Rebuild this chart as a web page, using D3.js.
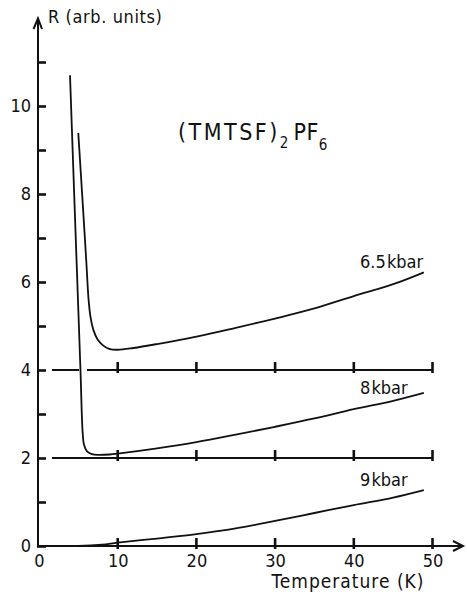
<!DOCTYPE html>
<html>
<head>
<meta charset="utf-8">
<script src="https://cdn.jsdelivr.net/npm/d3@7"></script>
<style>
  body { margin: 0; background: #fff; }
  svg text { font-family: "DejaVu Sans Condensed", "Liberation Sans Narrow", "DejaVu Sans", sans-serif; fill: #111; }
</style>
</head>
<body>
<svg id="chart"></svg>
<script>
// temperature (K) and resistance (arb. units) for each pressure
const temp65 = [4.99, 5.48, 6.0, 6.3, 6.55, 6.93, 7.43, 8.13, 8.9, 10, 12, 15, 20, 25, 30, 35, 40, 45, 48.9];
const res65  = [9.39, 8.0, 6.5, 5.6, 5.2, 4.9, 4.7, 4.56, 4.48, 4.46, 4.5, 4.59, 4.76, 4.96, 5.17, 5.4, 5.68, 5.95, 6.22];

const temp8 = [3.94, 4.47, 4.87, 5.27, 5.54, 5.72, 6.1, 6.7, 7.5, 9, 10, 15, 20, 25, 30, 35, 40, 45, 48.9];
const res8  = [10.7, 8.0, 6.0, 4.0, 2.6, 2.3, 2.15, 2.09, 2.07, 2.08, 2.1, 2.22, 2.36, 2.53, 2.71, 2.9, 3.11, 3.3, 3.48];

const temp9 = [0, 5, 8, 10, 15, 20, 25, 30, 35, 40, 45, 48.9];
const res9  = [0, 0, 0.03, 0.075, 0.17, 0.27, 0.4, 0.57, 0.75, 0.93, 1.1, 1.27];

const baselines = [4, 2];          // offset zero lines of the upper curves
const xTicks = [0, 10, 20, 30, 40, 50];
const yTicks = d3.range(0, 12);    // 0..11
const yLabels = [0, 2, 4, 6, 8, 10];
const pressureLabels = ["6.5 kbar", "8 kbar", "9 kbar"];

const width = 467, height = 594;

const svg = d3.select('#chart')
    .attr('width', width)
    .attr('height', height);

const x = d3.scaleLinear().domain([0, 50]).range([39, 432.5]);
const y = d3.scaleLinear().domain([0, 10]).range([546, 106]);

const ink = '#111';

// y axis ticks (no labels), pointing right
const yTickAxis = d3.axisRight(y).tickValues(yTicks).tickSize(9).tickFormat('');
svg.append('g')
    .attr('transform', `translate(${x(0) - 2},0)`)
    .call(yTickAxis)
    .call(g => g.select('.domain').remove())
    .call(g => g.selectAll('line').attr('stroke', ink).attr('stroke-width', 2.6));

// y labels
svg.append('g')
    .attr('transform', `translate(${x(0) - 5},0)`)
    .call(d3.axisLeft(y).tickValues(yLabels).tickSize(0))
    .call(g => g.select('.domain').remove())
    .call(g => g.selectAll('text')
        .attr('font-size', 18)
        .attr('dy', '0.3em')
        .attr('x', -3));

// x labels
svg.append('g')
    .attr('transform', `translate(0,${y(0) + 4})`)
    .call(d3.axisBottom(x).tickValues(xTicks).tickSize(0))
    .call(g => g.select('.domain').remove())
    .call(g => g.selectAll('text')
        .attr('font-size', 18)
        .attr('dy', '0.8em'));

// y axis line with open arrow
svg.append('path')
    .attr('d', `M${x(0) - 1},${y(0) + 1}V18.5M33.5,29L${x(0) - 1},18.5L42,29`)
    .attr('fill', 'none').attr('stroke', ink).attr('stroke-width', 2);

// x axis line with open arrow
svg.append('path')
    .attr('d', `M${x(0) - 1},${y(0)}H463M453,${y(0) - 5}L463,${y(0)}L453,${y(0) + 5}`)
    .attr('fill', 'none').attr('stroke', ink).attr('stroke-width', 2);

// offset baselines
baselines.forEach(b => {
    svg.append('line')
        .attr('x1', x(1.65)).attr('x2', x(50))
        .attr('y1', y(b)).attr('y2', y(b))
        .attr('stroke', ink).attr('stroke-width', 1.8)
        .attr('stroke-dasharray', b === 4 ? '27,8,400' : null);
});

// small ticks on all three baselines
[0].concat(baselines).forEach(b => {
    svg.append('g').selectAll('line')
        .data(xTicks.slice(1))
        .join('line')
        .attr('x1', d => x(d)).attr('x2', d => x(d))
        .attr('y1', y(b) - 8).attr('y2', y(b) + 3)
        .attr('stroke', ink).attr('stroke-width', 2.6);
});

// curves
const line = d3.line()
    .x(d => x(d[0]))
    .y(d => y(d[1]))
    .curve(d3.curveCatmullRom.alpha(0.5));

[[temp65, res65], [temp8, res8], [temp9, res9]].forEach(([t, r]) => {
    svg.append('path')
        .datum(t.map((v, i) => [v, r[i]]))
        .attr('d', line)
        .attr('fill', 'none')
        .attr('stroke', ink)
        .attr('stroke-width', 1.8);
});

// pressure labels
const labelY = [268, 394, 486];
pressureLabels.forEach((txt, i) => {
    svg.append('text')
        .attr('x', 360)
        .attr('y', labelY[i])
        .attr('font-size', 18)
        .attr('word-spacing', -4)
        .text(txt);
});

// axis titles
svg.append('text')
    .attr('x', 48).attr('y', 23)
    .attr('font-size', 18)
    .attr('letter-spacing', 0.6)
    .text('R (arb. units)');

svg.append('text')
    .attr('x', 348).attr('y', 588)
    .attr('text-anchor', 'middle')
    .attr('font-size', 19)
    .attr('letter-spacing', 1)
    .text('Temperature (K)');

// compound name
const title = svg.append('text')
    .attr('x', 178).attr('y', 140)
    .attr('font-size', 23);
title.append('tspan').attr('letter-spacing', 2.5).text('(TMTSF)');
title.append('tspan').attr('font-size', 15).attr('dy', 8).text('2');
title.append('tspan').attr('dy', -8).attr('dx', 5).attr('letter-spacing', 0.5).text('PF');
title.append('tspan').attr('font-size', 15).attr('dy', 10).text('6');
</script>
</body>
</html>
